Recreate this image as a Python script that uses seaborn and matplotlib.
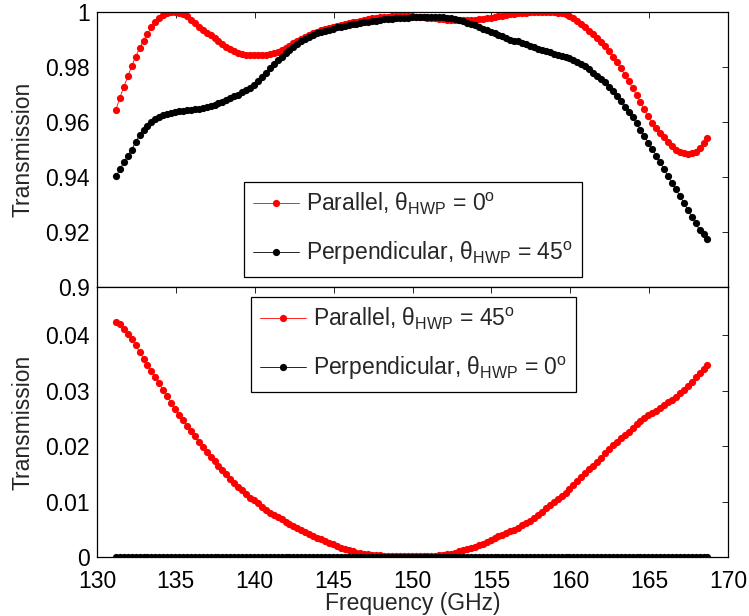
import numpy as np
import pandas as pd
import matplotlib
matplotlib.use("Agg")
import matplotlib.pyplot as plt
from matplotlib.ticker import FuncFormatter
import seaborn as sns

# frequency grid of the measurement (GHz)
freq = np.round(np.arange(131.2, 168.71, 0.25), 2)

# top panel: co-polar transmission
par_0 = [
    0.9645, 0.9688, 0.9728, 0.9766, 0.9803, 0.9838, 0.9868, 0.9896, 0.9921, 0.9944,
    0.9963, 0.9978, 0.9990, 0.9996, 0.9999, 1.0000, 0.9998, 0.9993, 0.9984, 0.9972,
    0.9959, 0.9946, 0.9935, 0.9925, 0.9916, 0.9906, 0.9895, 0.9884, 0.9874, 0.9866,
    0.9858, 0.9852, 0.9848, 0.9845, 0.9843, 0.9842, 0.9842, 0.9842, 0.9843, 0.9846,
    0.9850, 0.9856, 0.9863, 0.9870, 0.9878, 0.9886, 0.9893, 0.9901, 0.9909, 0.9916,
    0.9922, 0.9928, 0.9933, 0.9937, 0.9941, 0.9945, 0.9948, 0.9952, 0.9955, 0.9959,
    0.9962, 0.9965, 0.9968, 0.9971, 0.9974, 0.9977, 0.9979, 0.9981, 0.9982, 0.9983,
    0.9984, 0.9985, 0.9985, 0.9985, 0.9984, 0.9984, 0.9983, 0.9982, 0.9981, 0.9980,
    0.9978, 0.9977, 0.9975, 0.9974, 0.9972, 0.9971, 0.9970, 0.9970, 0.9970, 0.9970,
    0.9971, 0.9972, 0.9973, 0.9975, 0.9977, 0.9979, 0.9982, 0.9984, 0.9987, 0.9990,
    0.9992, 0.9994, 0.9996, 0.9997, 0.9998, 0.9999, 1.0000, 1.0000, 1.0000, 1.0000,
    1.0000, 0.9999, 0.9998, 0.9995, 0.9991, 0.9985, 0.9977, 0.9967, 0.9956, 0.9944,
    0.9932, 0.9920, 0.9907, 0.9892, 0.9876, 0.9858, 0.9838, 0.9817, 0.9795, 0.9772,
    0.9748, 0.9723, 0.9698, 0.9672, 0.9646, 0.9621, 0.9598, 0.9578, 0.9560, 0.9544,
    0.9527, 0.9513, 0.9500, 0.9490, 0.9486, 0.9485, 0.9486, 0.9492, 0.9505, 0.9522,
    0.9542,
]
perp_45 = [
    0.9402, 0.9428, 0.9453, 0.9477, 0.9500, 0.9527, 0.9552, 0.9570, 0.9586, 0.9600,
    0.9610, 0.9617, 0.9624, 0.9629, 0.9633, 0.9636, 0.9639, 0.9641, 0.9643, 0.9645,
    0.9647, 0.9649, 0.9652, 0.9655, 0.9658, 0.9662, 0.9668, 0.9673, 0.9679, 0.9686,
    0.9694, 0.9700, 0.9708, 0.9716, 0.9725, 0.9736, 0.9750, 0.9765, 0.9780, 0.9796,
    0.9811, 0.9825, 0.9838, 0.9851, 0.9863, 0.9874, 0.9884, 0.9893, 0.9901, 0.9909,
    0.9916, 0.9922, 0.9928, 0.9932, 0.9936, 0.9940, 0.9944, 0.9947, 0.9950, 0.9953,
    0.9956, 0.9958, 0.9960, 0.9962, 0.9964, 0.9967, 0.9969, 0.9971, 0.9973, 0.9975,
    0.9976, 0.9977, 0.9978, 0.9979, 0.9980, 0.9981, 0.9982, 0.9982, 0.9983, 0.9983,
    0.9983, 0.9983, 0.9982, 0.9981, 0.9980, 0.9978, 0.9975, 0.9971, 0.9966, 0.9961,
    0.9956, 0.9951, 0.9945, 0.9939, 0.9934, 0.9928, 0.9922, 0.9917, 0.9911, 0.9905,
    0.9900, 0.9896, 0.9893, 0.9889, 0.9884, 0.9878, 0.9872, 0.9867, 0.9862, 0.9858,
    0.9853, 0.9849, 0.9845, 0.9840, 0.9836, 0.9832, 0.9825, 0.9818, 0.9811, 0.9802,
    0.9792, 0.9780, 0.9767, 0.9757, 0.9745, 0.9729, 0.9711, 0.9693, 0.9675, 0.9656,
    0.9637, 0.9617, 0.9595, 0.9572, 0.9549, 0.9525, 0.9502, 0.9478, 0.9453, 0.9428,
    0.9403, 0.9379, 0.9355, 0.9330, 0.9306, 0.9281, 0.9256, 0.9231, 0.9208, 0.9191,
    0.9176,
]

# bottom panel: cross-polar leakage
par_45 = [
    0.0424, 0.0420, 0.0412, 0.0403, 0.0393, 0.0382, 0.0370, 0.0358, 0.0346, 0.0335,
    0.0324, 0.0313, 0.0301, 0.0290, 0.0278, 0.0267, 0.0257, 0.0247, 0.0237, 0.0228,
    0.0218, 0.0208, 0.0198, 0.0189, 0.0181, 0.0173, 0.0165, 0.0157, 0.0149, 0.0141,
    0.0134, 0.0127, 0.0120, 0.0113, 0.0107, 0.0102, 0.0097, 0.0090, 0.0084, 0.0079,
    0.0075, 0.0072, 0.0068, 0.0064, 0.0060, 0.0056, 0.0052, 0.0048, 0.0045, 0.0041,
    0.0038, 0.0035, 0.0032, 0.0029, 0.0026, 0.0023, 0.0020, 0.0017, 0.0014, 0.0012,
    0.0010, 0.0008, 0.0007, 0.0006, 0.0005, 0.0004, 0.0003, 0.0003, 0.0002, 0.0002,
    0.0002, 0.0001, 0.0001, 0.0001, 0.0001, 0.0001, 0.0001, 0.0001, 0.0001, 0.0001,
    0.0002, 0.0002, 0.0003, 0.0004, 0.0005, 0.0006, 0.0008, 0.0010, 0.0012, 0.0014,
    0.0016, 0.0018, 0.0021, 0.0024, 0.0027, 0.0030, 0.0034, 0.0037, 0.0040, 0.0043,
    0.0046, 0.0049, 0.0053, 0.0057, 0.0061, 0.0065, 0.0070, 0.0076, 0.0082, 0.0088,
    0.0093, 0.0099, 0.0104, 0.0110, 0.0116, 0.0123, 0.0130, 0.0137, 0.0144, 0.0151,
    0.0158, 0.0165, 0.0172, 0.0179, 0.0187, 0.0195, 0.0202, 0.0208, 0.0214, 0.0220,
    0.0226, 0.0232, 0.0239, 0.0245, 0.0251, 0.0256, 0.0260, 0.0264, 0.0269, 0.0274,
    0.0279, 0.0284, 0.0289, 0.0295, 0.0302, 0.0309, 0.0316, 0.0324, 0.0332, 0.0339,
    0.0346,
]
perp_0 = [0.0] * len(freq)

top_ticks = [0.9, 0.92, 0.94, 0.96, 0.98, 1.0]
bot_ticks = [0, 0.01, 0.02, 0.03, 0.04]
x_ticks = [130, 135, 140, 145, 150, 155, 160, 165, 170]

labels_top = [r"Parallel, θ$_{\rm HWP}$ = 0$^{\rm o}$",
              r"Perpendicular, θ$_{\rm HWP}$ = 45$^{\rm o}$"]
labels_bot = [r"Parallel, θ$_{\rm HWP}$ = 45$^{\rm o}$",
              r"Perpendicular, θ$_{\rm HWP}$ = 0$^{\rm o}$"]

sns.set_theme(style="white")
plt.rcParams["font.family"] = ["Liberation Sans", "DejaVu Sans"]
plt.rcParams["mathtext.fontset"] = "custom"
plt.rcParams["mathtext.rm"] = "Liberation Sans"
plt.rcParams["mathtext.it"] = "Liberation Sans:italic"

FS = 16.5
plt.rcParams["font.size"] = FS
line_kw = dict(marker="o", markersize=5.2, markeredgewidth=0, linewidth=0.6,
               errorbar=None, sort=False)

fig = plt.figure(figsize=(7.49, 6.16), dpi=100)
ax_top = fig.add_axes([97 / 749, 1 - 287 / 616, 631 / 749, 275 / 616])
ax_bot = fig.add_axes([97 / 749, 1 - 557 / 616, 631 / 749, 270 / 616])

sns.lineplot(x=freq, y=par_0, color="#ff0000", label=labels_top[0], ax=ax_top, **line_kw)
sns.lineplot(x=freq, y=perp_45, color="black", label=labels_top[1], ax=ax_top, **line_kw)
sns.lineplot(x=freq, y=par_45, color="#ff0000", label=labels_bot[0], ax=ax_bot, **line_kw)
sns.lineplot(x=freq, y=perp_0, color="black", label=labels_bot[1], ax=ax_bot, **line_kw)

fmt = FuncFormatter(lambda v, p: "%g" % round(v, 4))
for ax in (ax_top, ax_bot):
    ax.set_xlim(130, 170)
    ax.set_xticks(x_ticks)
    ax.tick_params(direction="in", top=True, right=True, length=4, width=0.6,
                   labelsize=FS, colors="black", pad=5)
    for sp in ax.spines.values():
        sp.set_color("black")
        sp.set_linewidth(0.9)
    ax.yaxis.set_major_formatter(fmt)
    ax.set_ylabel("Transmission", fontsize=FS, labelpad=8)
    ax.set_facecolor("white")

ax_top.set_ylim(0.9, 1.0)
ax_top.set_yticks(top_ticks)
ax_top.tick_params(labelbottom=False)
ax_top.set_xlabel("")

ax_bot.set_ylim(0, 0.0487)
ax_bot.set_yticks(bot_ticks)
ax_bot.set_xlabel("Frequency (GHz)", fontsize=FS, labelpad=-1)
ax_bot.tick_params(axis="x", pad=9.5)

leg_kw = dict(loc="upper left", fancybox=False, edgecolor="black", framealpha=1,
              fontsize=FS, numpoints=1, handlelength=2.0, handletextpad=0.3,
              labelspacing=1.0, borderpad=0.4, borderaxespad=0)
leg1 = ax_top.legend(bbox_to_anchor=((244 - 97) / 631, (287 - 182) / 275), **leg_kw)
leg2 = ax_bot.legend(bbox_to_anchor=((251 - 97) / 631, (557 - 297) / 270), **leg_kw)
for leg in (leg1, leg2):
    leg.get_frame().set_linewidth(0.9)

fig.savefig("out.png", dpi=100)
